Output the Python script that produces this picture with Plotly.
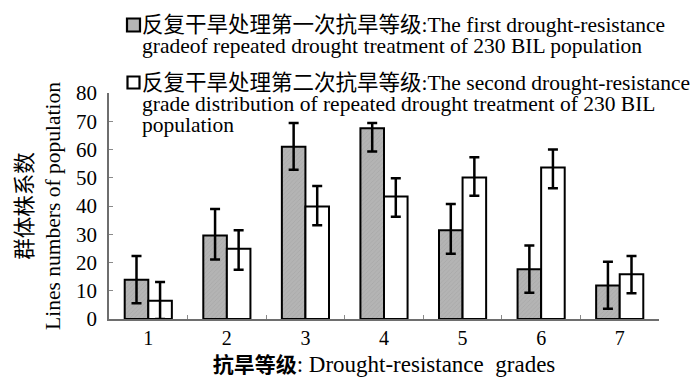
import plotly.graph_objects as go

# ---------------- data ----------------
grades = ["1", "2", "3", "4", "5", "6", "7"]
first_vals = [13.9, 29.6, 61.0, 67.5, 31.4, 17.6, 11.9]
first_err_plus = [8.4, 9.3, 8.4, 1.9, 9.3, 8.4, 8.4]
first_err_minus = [8.3, 8.5, 8.2, 8.2, 8.3, 8.3, 8.3]
second_vals = [6.5, 24.9, 39.8, 43.4, 50.1, 53.6, 15.8]
second_err_plus = [6.6, 6.5, 7.3, 6.4, 7.2, 6.4, 6.5]
second_err_minus = [6.5, 7.5, 6.6, 7.2, 6.5, 7.3, 6.7]
y_tick_vals = [0, 10, 20, 30, 40, 50, 60, 70, 80]

legend1_lines = ["反复干旱处理第一次抗旱等级:The first drought-resistance",
                 "gradeof repeated drought treatment of 230 BIL population"]
legend2_lines = ["反复干旱处理第二次抗旱等级:The second drought-resistance",
                 "grade distribution of repeated drought treatment of 230 BIL",
                 "population"]
x_title_cn = "抗旱等级"
x_title_en = ": Drought-resistance  grades"
y_title_cn = "群体株系数"
y_title_en = "Lines numbers of population"

# ---------------- layout geometry ----------------
W, H = 696, 378
L, R, T, B = 109, 659, 93, 319

def px(x):
    return (x - L) / (R - L)

def py(y):
    return (B - y) / (B - T)

SERIF = "Liberation Serif, Noto Sans CJK SC, serif"
GRAY_FILL = "#b4b4b4"

fig = go.Figure()
fig.add_trace(go.Bar(
    x=grades, y=first_vals, name=legend1_lines[0],
    marker=dict(color=GRAY_FILL, line=dict(color="black", width=2),
                pattern=dict(shape="/", fgcolor="#9c9c9c", bgcolor=GRAY_FILL,
                             size=3, solidity=0.25)),
    error_y=dict(type="data", symmetric=False, array=first_err_plus,
                 arrayminus=first_err_minus, color="black", thickness=2.5, width=5),
    showlegend=False,
))
fig.add_trace(go.Bar(
    x=grades, y=second_vals, name=legend2_lines[0],
    marker=dict(color="white", line=dict(color="black", width=2)),
    error_y=dict(type="data", symmetric=False, array=second_err_plus,
                 arrayminus=second_err_minus, color="black", thickness=2.5, width=5),
    showlegend=False,
))

fig.update_layout(
    width=W, height=H,
    margin=dict(l=L, r=W - R, t=T, b=H - B, autoexpand=False),
    paper_bgcolor="white", plot_bgcolor="white",
    barmode="group", bargap=0.4, bargroupgap=0.0,
    font=dict(family=SERIF, size=21, color="black"),
)

fig.update_xaxes(
    type="category", range=[-0.5, 6.5], tickson="boundaries",
    ticks="inside", ticklen=4, tickcolor="#8a8a8a", tickwidth=1,
    showline=True, linecolor="#6e6e6e", linewidth=1.5,
    showgrid=False, zeroline=False, ticklabelstandoff=0,
    tickfont=dict(family=SERIF, size=20),
    title=dict(
        text=("<span style='font-family:Noto Sans CJK SC; font-weight:bold; font-size:21px'>"
              + x_title_cn + "</span>" + x_title_en),
        font=dict(family=SERIF, size=23), standoff=4),
)
fig.update_yaxes(
    range=[0, 80], tickvals=y_tick_vals,
    ticks="inside", ticklen=4, tickcolor="#8a8a8a", tickwidth=1,
    showline=True, linecolor="#6e6e6e", linewidth=1.5,
    showgrid=False, zeroline=False, ticklabelstandoff=6,
    tickfont=dict(family=SERIF, size=21),
    title=dict(
        text=(y_title_cn + "<br>" + y_title_en),
        font=dict(family=SERIF, size=21.5), standoff=10),
)

# ---------------- legend (drawn as text + swatches) ----------------
fig.add_shape(type="rect", xref="paper", yref="paper",
              x0=px(127), x1=px(140), y0=py(31.5), y1=py(18.5),
              fillcolor=GRAY_FILL, line=dict(color="black", width=2.2))
fig.add_shape(type="rect", xref="paper", yref="paper",
              x0=px(127.5), x1=px(139.5), y0=py(88.5), y1=py(76.5),
              fillcolor="white", line=dict(color="black", width=2.2))

def legend_block(lines):
    return "<br>".join("<span style='font-size:21.5px'>" + s + "</span>" for s in lines)

# annotation font size sets the line pitch (1.3 x size); spans set the glyph size
for lines, yc in [(legend1_lines, 35), (legend2_lines, 104)]:
    fig.add_annotation(text=legend_block(lines), xref="paper", yref="paper",
                       x=px(141), y=py(yc), xanchor="left", yanchor="middle",
                       align="left", showarrow=False, borderpad=0,
                       font=dict(family=SERIF, size=16, color="black"))

fig.write_html("out.html")
